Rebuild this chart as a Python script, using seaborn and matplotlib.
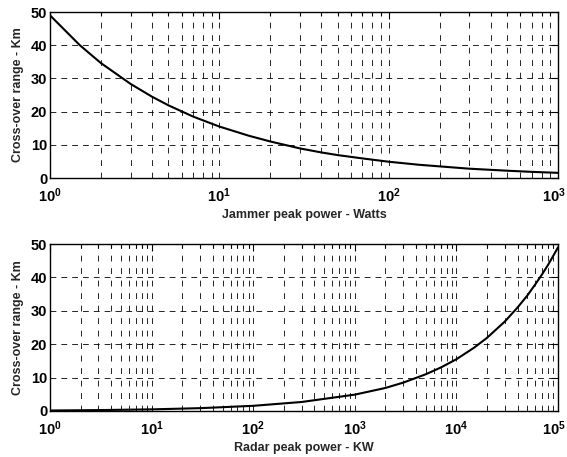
import matplotlib
matplotlib.use("Agg")
import matplotlib.pyplot as plt
import matplotlib.transforms as mtransforms
import seaborn as sns
import pandas as pd
from matplotlib.ticker import LogLocator, FixedLocator

# Jammer peak power (W) vs cross-over range (km)
jammer_power_w = [1, 1.5, 2, 3, 4, 5, 7, 10, 15, 20, 30, 40, 50, 70,
                  100, 150, 200, 300, 500, 700, 1000]
jammer_range_km = [49.0, 40.0, 34.6, 28.3, 24.5, 21.9, 18.5, 15.5, 12.7, 11.0,
                   8.9, 7.7, 6.9, 5.9, 4.9, 4.0, 3.5, 2.8, 2.2, 1.85, 1.55]

# Radar peak power (kW) vs cross-over range (km)
radar_power_kw = [1, 3, 10, 30, 100, 300, 1000, 2000, 3000, 5000, 7000, 10000,
                  15000, 20000, 30000, 40000, 50000, 60000, 70000, 80000,
                  90000, 100000]
radar_range_km = [0.15, 0.27, 0.49, 0.85, 1.55, 2.7, 4.9, 6.9, 8.5, 11.0, 13.0,
                  15.5, 19.0, 21.9, 26.8, 31.0, 34.6, 38.0, 41.0, 43.8, 46.5, 49.0]

y_ticks = [0, 10, 20, 30, 40, 50]
y_label = "Cross-over range - Km"
x_labels = ["Jammer peak power - Watts", "Radar peak power - KW"]

sns.set_style("white")
plt.rcParams["font.family"] = ["Liberation Sans", "DejaVu Sans"]
plt.rcParams["font.weight"] = "bold"
plt.rcParams["axes.labelweight"] = "bold"
plt.rcParams["mathtext.default"] = "regular"

fig = plt.figure(figsize=(5.67, 4.57), dpi=100)
ax1 = fig.add_axes([50 / 567, 1 - 178 / 457, 508 / 567, 166 / 457])
ax2 = fig.add_axes([50 / 567, 1 - 411 / 457, 508 / 567, 167 / 457])

panels = [
    (ax1, jammer_power_w, jammer_range_km, (1, 1000), x_labels[0]),
    (ax2, radar_power_kw, radar_range_km, (1, 100000), x_labels[1]),
]

for ax, xs, ys, xlim, xlabel in panels:
    df = pd.DataFrame({"power": xs, "range": ys})
    sns.lineplot(data=df, x="power", y="range", ax=ax, color="black",
                 linewidth=1.5, estimator=None, sort=False)
    ax.set_xscale("log")
    ax.set_xlim(*xlim)
    ax.set_ylim(0, 50)
    ax.yaxis.set_major_locator(FixedLocator(y_ticks))
    ax.xaxis.set_major_locator(LogLocator(base=10, numticks=20))
    ax.xaxis.set_minor_locator(LogLocator(base=10, subs=range(2, 10), numticks=200))
    ax.grid(True, which="both", axis="x", color="black", linewidth=0.6,
            linestyle=(0, (7, 8)))
    ax.grid(True, which="major", axis="y", color="black", linewidth=0.6,
            linestyle=(0, (7, 6)))
    ax.set_axisbelow(True)
    ax.tick_params(which="both", direction="in", top=True, right=True,
                   colors="black", labelsize=10.5, width=0.8)
    ax.tick_params(which="major", length=5)
    ax.tick_params(which="minor", length=3)
    ax.tick_params(axis="x", which="major", pad=6)
    ax.tick_params(axis="y", which="major", pad=2)
    for sp in ax.spines.values():
        sp.set_color("black")
        sp.set_linewidth(1.0)
    ax.set_xlabel(xlabel, fontsize=9, fontweight="bold", labelpad=3)
    ax.set_ylabel(y_label, fontsize=9, fontweight="bold", labelpad=5)

fig.canvas.draw()
# nudge the right-most decade label so its exponent stays on the canvas
shift = mtransforms.ScaledTranslation(-4 / 100, 0, fig.dpi_scale_trans)
for ax in (ax1, ax2):
    for lbl in ax.get_xticklabels() + ax.get_yticklabels():
        lbl.set_fontweight("bold")
    right = ax.get_xlim()[1]
    for tick in ax.xaxis.get_major_ticks():
        if abs(tick.get_loc() - right) / right < 1e-6:
            tick.label1.set_transform(tick.label1.get_transform() + shift)

fig.savefig("out.png", dpi=100, facecolor="white")
